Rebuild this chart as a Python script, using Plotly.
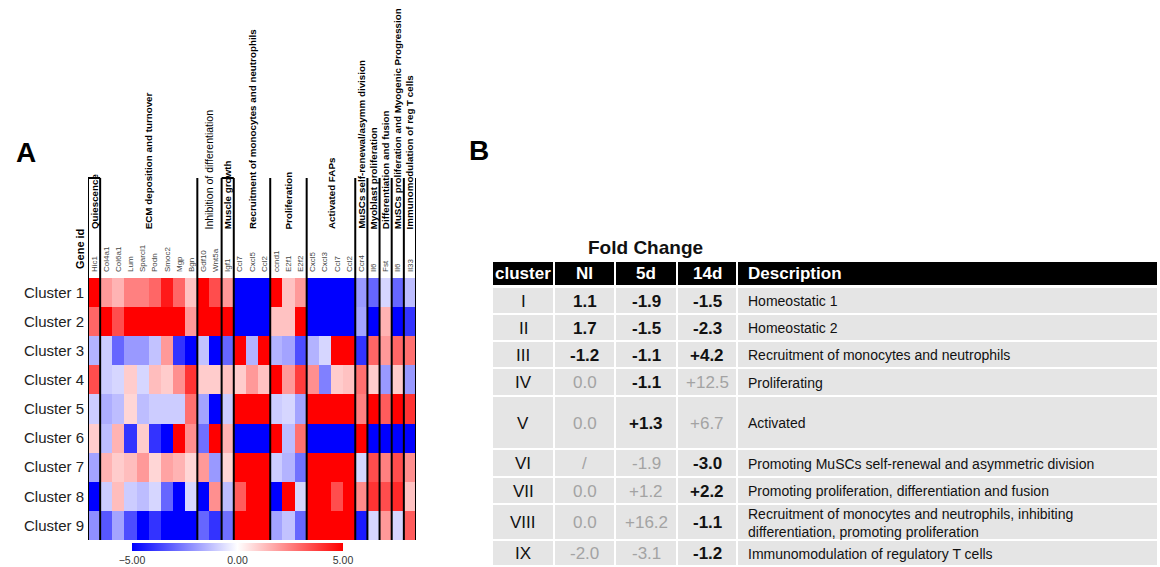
import plotly.graph_objects as go

# ---------------- data ----------------
genes = ["Hic1", "Col4a1", "Col6a1", "Lum", "Sparcl1", "Podn", "Smoc2", "Mgp", "Bgn",
         "Gdf10", "Wnt5a", "Igf1", "Ccl7", "Cxcl5", "Ccl2", "ccnd1", "E2f1", "E2f2",
         "Cxcl5", "Cxcl3", "Ccl7", "Ccl2", "Ccr4", "Il6", "Fst", "Il6", "Il33"]
clusters = ["Cluster 1", "Cluster 2", "Cluster 3", "Cluster 4", "Cluster 5",
            "Cluster 6", "Cluster 7", "Cluster 8", "Cluster 9"]
cluster1 = [5, 2, 1.5, 2.5, 2.5, 3, 4.5, 3, 1.2, 5, 3.5, 2, -5, -5, -5, 5, 1.2, 2, -5, -5, -5, -5, -2, -3, -0.8, -3, -1.3]
cluster2 = [3, 5, 3.5, 5, 5, 5, 5, 5, 2, 5, 5, 5, -5, -5, -5, 1.2, 1.2, 5, -5, -5, -5, -5, -1.8, -5, 1.5, -5, -4]
cluster3 = [-1.5, -1, -3, -2, -2, -1.2, 2, -4, -5, -1.2, -5, -3, 5, -1.5, 5, -1.5, -1.8, -3.5, -1.5, -0.8, 5, 5, -4, 3, 2, 3, 2.8]
cluster4 = [3.5, -1, -0.8, 1, -0.8, 1.3, 1, 2.2, 4, 1, 1, 1.2, 1, 2, 1.2, 5, 2, 3.8, 2.2, -2.5, 1, 1.2, 2.8, 1, -2, 1, -2]
cluster5 = [-1, -1.6, -1.3, 0.8, -1.3, -1, -1, -1, 2.8, -1.8, -5, -1, 5, 5, 5, -1, -0.8, -1.8, 5, 5, 5, 5, 2.5, 5, 3.2, 5, 4]
cluster6 = [1, -1.3, 1.5, -4, 1, -4, -5, 5, 2.2, -2.8, 5, 1.5, -5, -5, -5, 5, -1.3, 2.8, -5, -5, -5, -5, 5, -5, -5, -5, -5]
cluster7 = [-1.8, 1.5, 1, 1.3, 2, 0.8, 1.8, 1.5, 0.8, 2, -2, 0.8, 5, 5, 5, -1, -1.5, -2.8, 5, 5, 5, 5, -0.8, 3.5, 2.5, 3.5, 2.2]
cluster8 = [-5, -1, 1.3, -1, -1.3, -0.8, -3, -5, -0.8, -5, 2.2, -1.3, 3.2, 5, 5, -5, 5, -0.8, 5, 5, 3.5, 5, 2.3, 4, 3.5, 4.2, 1.2]
cluster9 = [-2.2, -3.3, -1.8, -3.5, -5, -4, -5, -5, -5, -3, -4, -2.8, 5, 5, 5, -1.8, -1.2, -3, 5, 5, 5, 5, -4.5, -0.8, 2, -0.8, 3.2]
values = [cluster1, cluster2, cluster3, cluster4, cluster5, cluster6, cluster7, cluster8, cluster9]

group_labels = ["Quiescence", "ECM deposition and turnover", "Inhibition of differentiation",
                "Muscle growth", "Recruitment of monocytes and neutrophils", "Proliferation",
                "Activated FAPs", "MuSCs self-renewal/asymm division", "Myoblast proliferation",
                "Differentiation and fusion", "MuSCs proliferation and Myogenic Progression",
                "Immunomodulation of reg T cells"]
group_start = [0, 1, 9, 11, 12, 15, 18, 22, 23, 24, 25, 26]
group_end = [0, 8, 10, 11, 14, 17, 21, 22, 23, 24, 25, 26]
group_bold = [1, 1, 0, 1, 1, 1, 1, 1, 1, 1, 1, 1]

roman = ["I", "II", "III", "IV", "V", "VI", "VII", "VIII", "IX"]
fc_ni = ["1.1", "1.7", "-1.2", "0.0", "0.0", "/", "0.0", "0.0", "-2.0"]
fc_5d = ["-1.9", "-1.5", "-1.1", "-1.1", "+1.3", "-1.9", "+1.2", "+16.2", "-3.1"]
fc_14d = ["-1.5", "-2.3", "+4.2", "+12.5", "+6.7", "-3.0", "+2.2", "-1.1", "-1.2"]
bold_ni = [1, 1, 1, 0, 0, 0, 0, 0, 0]
bold_5d = [1, 1, 1, 1, 1, 0, 0, 0, 0]
bold_14d = [1, 1, 1, 0, 0, 1, 1, 1, 1]
descriptions = ["Homeostatic 1", "Homeostatic 2", "Recruitment of monocytes and neutrophils",
                "Proliferating", "Activated",
                "Promoting MuSCs self-renewal and asymmetric division",
                "Promoting proliferation, differentiation and fusion",
                "Recruitment of monocytes and neutrophils, inhibiting<br>differentiation, promoting proliferation",
                "Immunomodulation of regulatory T cells"]
header = ["cluster", "NI", "5d", "14d", "Description"]

# ---------------- layout constants (pixels) ----------------
W, H = 1160, 567
FONT = "Liberation Sans, Arial, sans-serif"
def py(y):
    return 1 - y / H

HM_L, HM_R, HM_T, HM_B = 88, 416, 278, 540
LINE_TOP = 178
GROUP_BOTTOM = 231

# table geometry
col_x = [(493, 553), (555, 614), (616, 676), (678, 736), (738, 1157)]
head_y = (262, 285)
row_y = [(288, 313), (315, 340), (342, 367), (369, 395), (397, 448),
         (450, 476), (478, 503), (505, 539), (541, 565)]
CELL_BG = "#e5e5e5"
GRAY = "#a3a3a3"

fig = go.Figure()
fig.add_trace(go.Heatmap(
    z=values, x=list(range(len(genes))), y=clusters,
    colorscale=[[0, "#0000ff"], [0.5, "#ffffff"], [1, "#ff0000"]],
    zmin=-5, zmax=5, xaxis="x", yaxis="y",
    colorbar=dict(orientation="h", x=237.5 / W, xanchor="center",
                  y=py(543), yanchor="top", len=211 / W, lenmode="fraction",
                  thickness=8, outlinewidth=0, tickvals=[-5, 0, 5], xpad=0, ypad=0,
                  tickformat=".2f", ticks="",
                  tickfont=dict(family=FONT, size=10.5, color="#333")),
))
fig.add_trace(go.Scatter(x=[500], y=[10], xaxis="x2", yaxis="y2",
                         mode="markers", marker=dict(opacity=0), showlegend=False,
                         hoverinfo="skip"))

shapes = []
annotations = []

# vertical separators in the heatmap / header
bounds = sorted(set(group_start + [g + 1 for g in group_end]))
for b in bounds:
    shapes.append(dict(type="line", xref="x", yref="paper", x0=b - 0.5, x1=b - 0.5,
                       y0=py(HM_B), y1=py(LINE_TOP), line=dict(color="black", width=2)))
for s, e in [(0, 0), (11, 11)]:
    shapes.append(dict(type="line", xref="x", yref="paper", x0=s - 0.5, x1=e + 0.5,
                       y0=py(LINE_TOP), y1=py(LINE_TOP), line=dict(color="black", width=2)))

# group labels
for lab, s, e, b in zip(group_labels, group_start, group_end, group_bold):
    txt = f"<b>{lab}</b>" if b else lab
    annotations.append(dict(text=txt, xref="x", yref="paper", x=(s + e) / 2,
                            y=py(GROUP_BOTTOM), xanchor="center", yanchor="bottom",
                            textangle=-90, showarrow=False,
                            font=dict(family=FONT, size=9.8 if b else 10.5, color="black")))

annotations.append(dict(text="<b>Gene id</b>", xref="paper", yref="paper", x=80 / W,
                        y=py(271), xanchor="center", yanchor="bottom", textangle=-90,
                        showarrow=False, font=dict(family=FONT, size=11, color="black")))
annotations.append(dict(text="<b>A</b>", xref="paper", yref="paper", x=26 / W, y=py(153),
                        xanchor="center", yanchor="middle", showarrow=False,
                        font=dict(family=FONT, size=28, color="black")))
annotations.append(dict(text="<b>B</b>", xref="paper", yref="paper", x=479 / W, y=py(150),
                        xanchor="center", yanchor="middle", showarrow=False,
                        font=dict(family=FONT, size=28, color="black")))

# ---------------- table ----------------
annotations.append(dict(text="<b>Fold Change</b>", xref="x2", yref="y2", x=645, y=247,
                        xanchor="center", yanchor="middle", showarrow=False,
                        font=dict(family=FONT, size=19, color="#111")))
for i, (h, (x0, x1)) in enumerate(zip(header, col_x)):
    shapes.append(dict(type="rect", xref="x2", yref="y2", x0=x0, x1=x1,
                       y0=head_y[0], y1=head_y[1], fillcolor="black", line=dict(width=0)))
    if i < 4:
        annotations.append(dict(text=f"<b>{h}</b>", xref="x2", yref="y2", x=(x0 + x1) / 2,
                                y=(head_y[0] + head_y[1]) / 2, xanchor="center",
                                yanchor="middle", showarrow=False,
                                font=dict(family=FONT, size=17, color="white")))
    else:
        annotations.append(dict(text=f"<b>{h}</b>", xref="x2", yref="y2", x=x0 + 8,
                                y=(head_y[0] + head_y[1]) / 2, xanchor="left",
                                yanchor="middle", showarrow=False,
                                font=dict(family=FONT, size=17, color="white")))

for r, (y0, y1) in enumerate(row_y):
    for (x0, x1) in col_x:
        shapes.append(dict(type="rect", xref="x2", yref="y2", x0=x0, x1=x1, y0=y0, y1=y1,
                           fillcolor=CELL_BG, line=dict(width=0), layer="below"))
    yc = (y0 + y1) / 2 + 0.5
    cx = [(a + b) / 2 for a, b in col_x]
    annotations.append(dict(text=roman[r], xref="x2", yref="y2", x=cx[0], y=yc,
                            xanchor="center", yanchor="middle", showarrow=False,
                            font=dict(family=FONT, size=17, color="#111")))
    for ci, (vals, bolds) in enumerate([(fc_ni, bold_ni), (fc_5d, bold_5d), (fc_14d, bold_14d)]):
        v = vals[r]
        if bolds[r]:
            txt, col = f"<b>{v}</b>", "#111"
        else:
            txt, col = v, GRAY
        annotations.append(dict(text=txt, xref="x2", yref="y2", x=cx[ci + 1], y=yc,
                                xanchor="center", yanchor="middle", showarrow=False,
                                font=dict(family=FONT, size=17, color=col)))
    annotations.append(dict(text=descriptions[r], xref="x2", yref="y2", x=col_x[4][0] + 8,
                            y=yc, xanchor="left", yanchor="middle", align="left",
                            showarrow=False,
                            font=dict(family=FONT, size=14, color="#111")))

fig.update_layout(
    width=W, height=H, margin=dict(l=0, r=0, t=0, b=0),
    paper_bgcolor="white", plot_bgcolor="white", showlegend=False,
    font=dict(family=FONT),
    xaxis=dict(domain=[HM_L / W, HM_R / W], range=[-0.5, len(genes) - 0.5], side="top",
               tickmode="array", tickvals=list(range(len(genes))), ticktext=genes,
               tickangle=-90, tickfont=dict(family=FONT, size=8, color="#444"),
               ticks="", showgrid=False, zeroline=False, showline=False,
               ticklabelstandoff=5, anchor="y"),
    yaxis=dict(domain=[py(HM_B), py(HM_T)], autorange="reversed", ticks="",
               tickfont=dict(family=FONT, size=15, color="#222"), showgrid=False,
               zeroline=False, ticklabelstandoff=3, anchor="x"),
    xaxis2=dict(domain=[480 / W, 1], range=[480, W], visible=False, anchor="y2"),
    yaxis2=dict(domain=[0, 1], range=[H, 0], visible=False, anchor="x2"),
    shapes=shapes, annotations=annotations,
)

fig.write_html("out.html")
